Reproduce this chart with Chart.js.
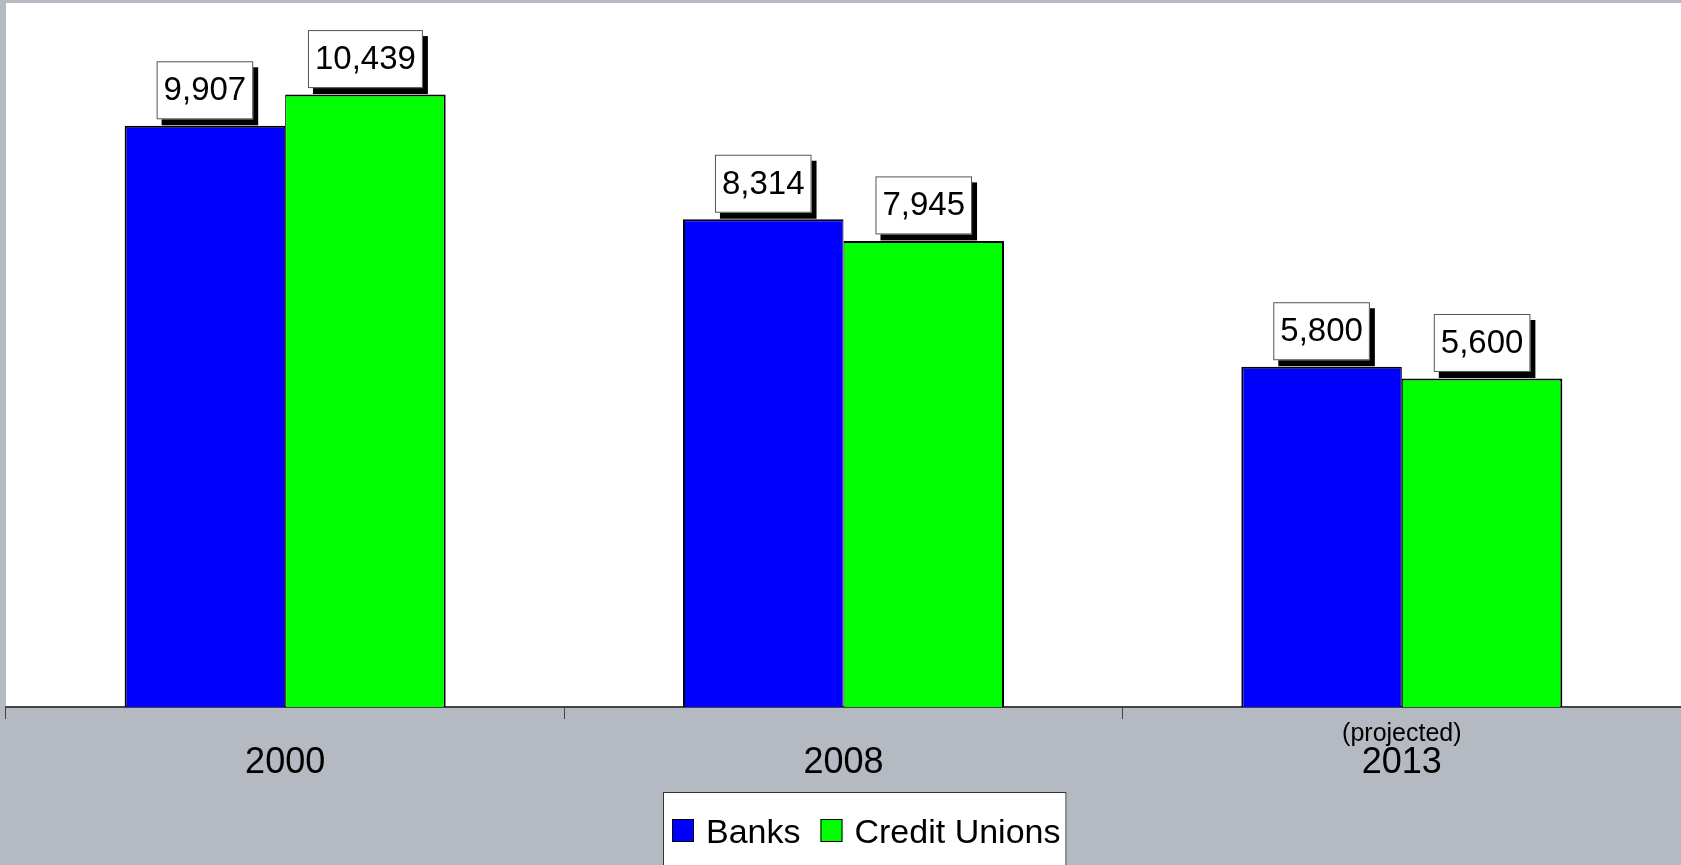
<!DOCTYPE html>
<html>
<head>
<meta charset="utf-8">
<title>Banks and Credit Unions</title>
<script src="https://cdn.jsdelivr.net/npm/chart.js@4"></script>
<style>
    body { margin: 0; overflow: hidden; background: #b5b9c1; }
    #chart-wrap { width: 1681px; height: 865px; }
</style>
</head>
<body>
<div id="chart-wrap">
    <canvas id="inst-chart" width="1681" height="865"></canvas>
</div>
<script>
// Number of institutions by year
var categories = ['2000', '2008', '2013'];
var notes = ['', '', '(projected)']; // small line shown above a year label
var banks = [9907, 8314, 5800];
var creditUnions = [10439, 7945, 5600];
var seriesNames = ['Banks', 'Credit Unions'];
var seriesColors = ['#0000ff', '#00ff00'];

var FONT = '"Liberation Sans", Arial, sans-serif';

// White plotting area behind the bars
var plotBackground = {
    id: 'plotBackground',
    beforeDraw: function (chart) {
        var a = chart.chartArea;
        var ctx = chart.ctx;
        ctx.save();
        ctx.fillStyle = '#ffffff';
        ctx.fillRect(a.left, a.top, a.right - a.left, a.bottom - a.top);
        ctx.restore();
    }
};

// Value boxes with a drop shadow sitting on top of each bar
var valueBoxes = {
    id: 'valueBoxes',
    afterDatasetsDraw: function (chart) {
        var ctx = chart.ctx;
        ctx.save();
        ctx.font = '33px ' + FONT;
        ctx.textAlign = 'center';
        ctx.textBaseline = 'middle';
        chart.data.datasets.forEach(function (ds, i) {
            chart.getDatasetMeta(i).data.forEach(function (bar, j) {
                var text = ds.data[j].toLocaleString('en-US');
                var w = ctx.measureText(text).width + 14;
                var h = 58;
                var x = bar.x - w / 2;
                var y = bar.y - 6.5 - h;
                ctx.fillStyle = '#000000';
                ctx.fillRect(x + 5, y + 6, w, h); // shadow
                ctx.fillStyle = '#ffffff';
                ctx.fillRect(x, y, w, h);
                ctx.strokeStyle = '#555555';
                ctx.lineWidth = 1;
                ctx.strokeRect(x + 0.5, y + 0.5, w - 1, h - 1);
                ctx.fillStyle = '#000000';
                ctx.fillText(text, bar.x, y + h / 2 + 1);
            });
        });
        ctx.restore();
    }
};

// Extra note line above a year label
var yearNotes = {
    id: 'yearNotes',
    afterDraw: function (chart) {
        var xs = chart.scales.x;
        var ctx = chart.ctx;
        ctx.save();
        ctx.font = '25px ' + FONT;
        ctx.textAlign = 'center';
        ctx.textBaseline = 'alphabetic';
        ctx.fillStyle = '#000000';
        notes.forEach(function (note, i) {
            if (note) ctx.fillText(note, xs.getPixelForValue(i), 741);
        });
        ctx.restore();
    }
};

// Boxed legend under the axis
var boxLegend = {
    id: 'boxLegend',
    afterDraw: function (chart) {
        var ctx = chart.ctx;
        var left = 663, top = 792;
        var x = left + 9;
        ctx.save();
        ctx.font = '34px ' + FONT;
        ctx.textBaseline = 'alphabetic';
        var items = chart.data.datasets.map(function (ds) {
            return { label: ds.label, color: ds.backgroundColor, w: ctx.measureText(ds.label).width };
        });
        var total = items.reduce(function (s, it) { return s + 22 + 12 + it.w; }, 0) + 20 * (items.length - 1);
        ctx.fillStyle = '#ffffff';
        ctx.fillRect(left, top, total + 15, 90);
        ctx.strokeStyle = '#333333';
        ctx.lineWidth = 1;
        ctx.strokeRect(left + 0.5, top + 0.5, total + 14, 90);
        items.forEach(function (it) {
            ctx.fillStyle = it.color;
            ctx.fillRect(x, 819, 22, 23);
            ctx.strokeStyle = '#000000';
            ctx.strokeRect(x + 0.5, 819.5, 21, 22);
            ctx.fillStyle = '#000000';
            ctx.fillText(it.label, x + 34, 842.5);
            x += 22 + 12 + it.w + 20;
        });
        ctx.restore();
    }
};

var ctx = document.getElementById('inst-chart').getContext('2d');
var chart = new Chart(ctx, {
    type: 'bar',
    data: {
        labels: categories,
        datasets: [{
            label: seriesNames[0],
            data: banks,
            backgroundColor: seriesColors[0],
            borderColor: '#000000',
            borderWidth: { top: 2, left: 2, right: 1, bottom: 0 },
            borderSkipped: false
        }, {
            label: seriesNames[1],
            data: creditUnions,
            backgroundColor: seriesColors[1],
            borderColor: '#000000',
            borderWidth: { top: 2, left: 1, right: 2, bottom: 0 },
            borderSkipped: false
        }]
    },
    options: {
        responsive: false,
        animation: false,
        layout: { padding: { left: 6, top: 3, right: 0, bottom: 0 } },
        datasets: {
            bar: { categoryPercentage: 0.575, barPercentage: 1 }
        },
        scales: {
            x: {
                offset: true,
                grid: {
                    offset: true,
                    drawOnChartArea: false,
                    drawTicks: true,
                    tickLength: 12,
                    color: '#444444',
                    lineWidth: 1
                },
                border: { display: true, color: '#444444', width: 2 },
                ticks: {
                    color: '#000000',
                    padding: 22,
                    font: { family: FONT, size: 36 }
                },
                afterFit: function (scale) { scale.height = 158; }
            },
            y: {
                display: false,
                min: 0,
                max: 12000
            }
        },
        plugins: {
            legend: { display: false },
            tooltip: { enabled: false }
        }
    },
    plugins: [plotBackground, valueBoxes, yearNotes, boxLegend]
});
</script>
</body>
</html>
